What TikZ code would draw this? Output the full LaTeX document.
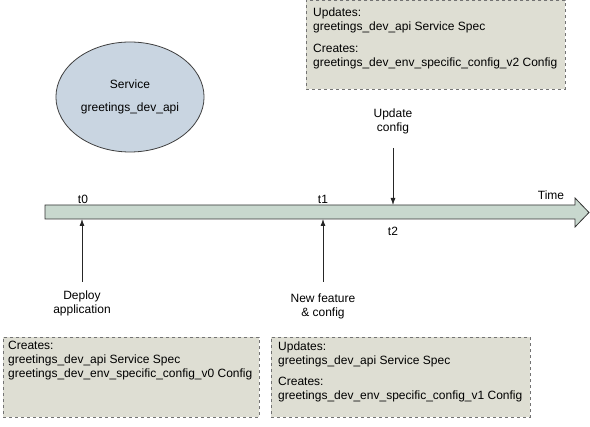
\documentclass[tikz,border=0pt]{standalone}
\usepackage{fontspec}
\setmainfont{Liberation Sans}
\usetikzlibrary{arrows.meta,shapes.geometric}

\definecolor{timelinefill}{RGB}{200,216,206}
\definecolor{boxfill}{RGB}{222,222,211}
\definecolor{servicefill}{RGB}{201,213,225}
\tikzset{
  timeline bar/.style={draw=black!80,thick,fill=timelinefill},
  timeline event/.style={-{Latex[length=7pt,width=5pt]},draw=black!85,thick},
  timeline label/.style={align=center,inner sep=2pt},
  change box/.style={draw=black!55,dashed,thick,fill=boxfill,minimum width=256pt,minimum height=80pt,anchor=north west,inner sep=0pt},
  change text/.style={align=left,anchor=north west,inner sep=0pt},
  service/.style={ellipse,draw=black!75,thick,fill=servicefill,minimum width=125pt,minimum height=110pt,align=center}
}

\begin{document}
\begin{tikzpicture}[x=1pt,y=-1pt,font=\fontsize{12}{14}\selectfont]
    \useasboundingbox (0,0) rectangle (590,427);
    % the time axis
    \draw[timeline bar] (45,205)--(575,205)--(575,198)--(589,212.5)--(575,227)--(575,219)--(45,219)--cycle;
    \coordinate (t0) at (82,219);
    \coordinate (t1) at (323,219);
    \coordinate (t2) at (393,205);
    \node (lt0) at (83,199) {t0};
    \node (lt1) at (323,199) {t1};
    \node (lt2) at (393,231) {t2};
    \node (time) at (551,195) {Time};
    % the service
    \node[service] (svc) at (130,97) {Service\\[9pt]greetings\_dev\_api};
    % events
    \node[timeline label,anchor=north] (deploy) at (82,289) {Deploy\\application};
    \node[timeline label,anchor=north] (feature) at (323,292) {New feature\\\& config};
    \node[timeline label,anchor=south] (update) at (393,136) {Update\\config};
    \draw[timeline event] ([yshift=7pt]deploy.north) -- (t0);
    \draw[timeline event] ([yshift=10pt]feature.north) -- (t1);
    \draw[timeline event] ([yshift=-12pt]update.south) -- (t2);
    % what each event does
    \node[change box] (box0) at (3,337) {};
    \node[change text] (txt0) at ([xshift=5pt,yshift=-4pt]box0.north west)
      {Creates:\\greetings\_dev\_api Service Spec\\greetings\_dev\_env\_specific\_config\_v0 Config};
    \node[change box,minimum width=259pt] (box1) at (271,337) {};
    \node[change text] (txt1) at ([xshift=7pt,yshift=-5pt]box1.north west)
      {Updates:\\greetings\_dev\_api Service Spec\\[7pt]Creates:\\greetings\_dev\_env\_specific\_config\_v1 Config};
    \node[change box,minimum width=259pt,minimum height=89pt] (box2) at (306,0) {};
    \node[change text] (txt2) at ([xshift=7pt,yshift=-8pt]box2.north west)
      {Updates:\\greetings\_dev\_api Service Spec\\[8pt]Creates:\\greetings\_dev\_env\_specific\_config\_v2 Config};
\end{tikzpicture}
\end{document}
